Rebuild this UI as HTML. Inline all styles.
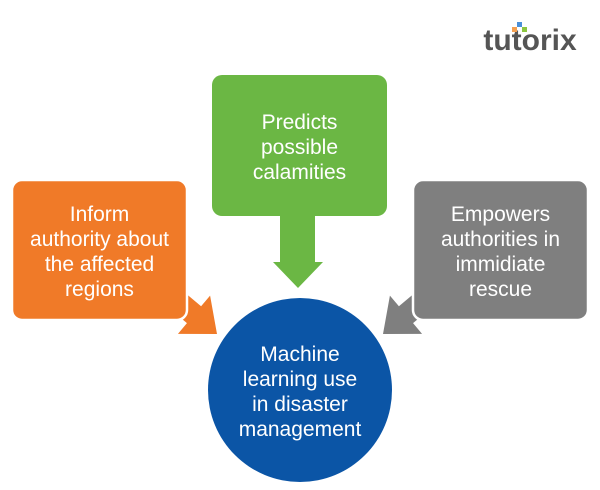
<!DOCTYPE html>
<html><head><style>
body{margin:0;width:600px;height:490px;background:#fff;overflow:hidden;position:relative;font-family:"Liberation Sans",sans-serif}
.b{position:absolute;color:#fff;font-size:21px;line-height:25px;text-align:center;display:flex;align-items:center;justify-content:center;border-radius:10px}
</style></head><body>
<svg width="600" height="490" style="position:absolute;left:0;top:0">
<g transform="translate(217,334) rotate(40)">
<polygon points="0,0 -30,-25 -30,-11 -80,-11 -80,11 -30,11 -30,25" fill="#F07A28"/>
</g>
<g transform="translate(383,334) rotate(140)">
<polygon points="0,0 -30,-25 -30,-11 -80,-11 -80,11 -30,11 -30,25" fill="#7F7F7F"/>
</g>
<rect x="12" y="180" width="175" height="140" rx="10" fill="#F07A28" stroke="#fff" stroke-width="2.5"/>
<rect x="413" y="180" width="175" height="140" rx="10" fill="#7F7F7F" stroke="#fff" stroke-width="2.5"/>
<rect x="212" y="75" width="175" height="141" rx="10" fill="#6BB744"/>
<polygon points="280,214 315,214 315,262 323,262 298,288 273,262 280,262" fill="#6BB744"/>
<circle cx="300" cy="390" r="92" fill="#0B55A6"/>
<text x="530" y="50" font-family="Liberation Sans" font-weight="bold" font-size="30" fill="#555" text-anchor="middle">tutorix</text>
<rect x="517" y="22" width="5" height="5" fill="#4A90D9"/><rect x="512" y="27" width="5" height="5" fill="#F5A050"/><rect x="522" y="27" width="5" height="5" fill="#8CC63F"/>
</svg>
<div class="b" style="left:12px;top:182px;width:175px;height:140px">Inform<br>authority about<br>the affected<br>regions</div>
<div class="b" style="left:212px;top:77px;width:175px;height:141px">Predicts<br>possible<br>calamities</div>
<div class="b" style="left:413px;top:182px;width:175px;height:140px">Empowers<br>authorities in<br>immidiate<br>rescue</div>
<div class="b" style="left:208px;top:300px;width:184px;height:184px;border-radius:50%">Machine<br>learning use<br>in disaster<br>management</div>
</body></html>
